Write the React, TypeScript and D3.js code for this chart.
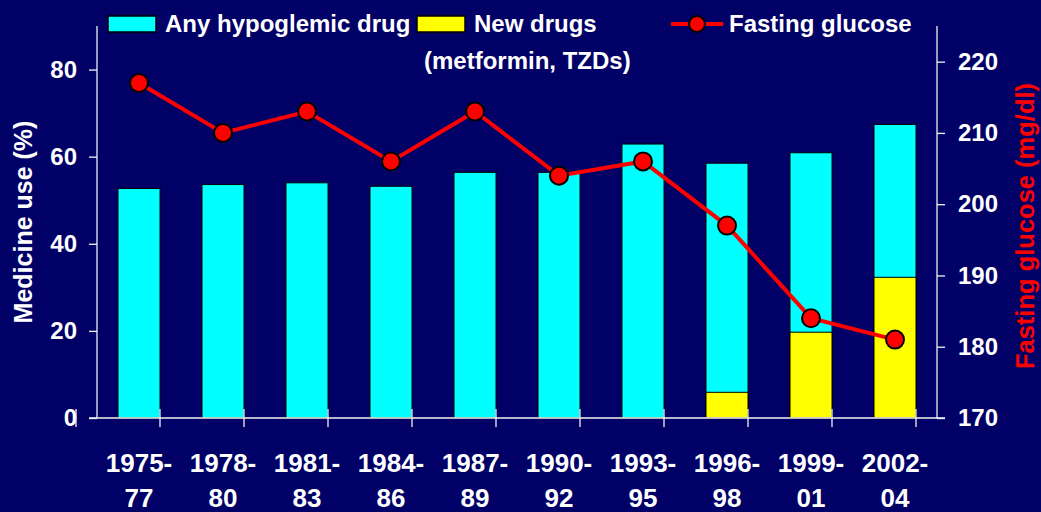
import { useEffect, useRef } from 'react';
import * as d3 from 'd3';

// periods (two-line labels)
const periods = ['1975-77', '1978-80', '1981-83', '1984-86', '1987-89', '1990-92', '1993-95', '1996-98', '1999-01', '2002-04'];
const periodTop = ['1975-', '1978-', '1981-', '1984-', '1987-', '1990-', '1993-', '1996-', '1999-', '2002-'];
const periodBottom = ['77', '80', '83', '86', '89', '92', '95', '98', '01', '04'];

// medicine use (%)
const anyDrug = [52.7, 53.6, 54.0, 53.2, 56.4, 56.4, 62.9, 58.5, 60.9, 67.4];
const newDrugs = [0, 0, 0, 0, 0, 0, 0, 5.9, 19.7, 32.3];

// fasting glucose (mg/dl)
const glucose = [217, 210, 213, 206, 213, 204, 206, 197, 184, 181];

const leftTicks = [0, 20, 40, 60, 80];
const leftMinor = [10, 30, 50, 70, 90];
const rightTicks = [170, 180, 190, 200, 210, 220];
const rightMinor = [175, 185, 195, 205, 215, 225];

const FONT = '"Liberation Sans", Arial, sans-serif';
const BG = '#000066';
const AXIS = '#f2f2f2';

const App = () => {
  const svgRef = useRef<SVGSVGElement>(null);

  useEffect(() => {
    const svg = d3.select(svgRef.current);
    svg.selectAll('*').remove();

    const width = 1041;
    const height = 512;
    const left = 97, right = 937, top = 26, bottom = 418;

    svg.attr('width', width).attr('height', height);
    svg.append('rect').attr('width', width).attr('height', height).attr('fill', BG);

    const x = d3.scaleBand<string>().domain(periods).range([left, right]).paddingInner(0.5).paddingOuter(0.25);
    const yL = d3.scaleLinear().domain([0, 90]).range([bottom, top]);
    const yR = d3.scaleLinear().domain([170, 225]).range([bottom, top]);

    // bars
    const bars = svg.append('g');
    bars.selectAll('rect.any')
      .data(periods)
      .enter()
      .append('rect')
      .attr('class', 'any')
      .attr('x', d => x(d)!)
      .attr('width', x.bandwidth())
      .attr('y', (d, i) => yL(anyDrug[i]))
      .attr('height', (d, i) => yL(0) - yL(anyDrug[i]))
      .attr('fill', '#00ffff')
      .attr('stroke', '#000')
      .attr('stroke-width', 1);

    bars.selectAll('rect.new')
      .data(periods.filter((d, i) => newDrugs[i] > 0))
      .enter()
      .append('rect')
      .attr('class', 'new')
      .attr('x', d => x(d)!)
      .attr('width', x.bandwidth())
      .attr('y', d => yL(newDrugs[periods.indexOf(d)]))
      .attr('height', d => yL(0) - yL(newDrugs[periods.indexOf(d)]))
      .attr('fill', '#ffff00')
      .attr('stroke', '#000')
      .attr('stroke-width', 1);

    // left axis
    const gL = svg.append('g').attr('transform', `translate(${left},0)`);
    gL.call(d3.axisLeft(yL).tickValues(leftMinor).tickSize(5).tickFormat(() => ''));
    gL.call(d3.axisLeft(yL).tickValues(leftTicks).tickSize(8).tickPadding(12).tickFormat(d3.format('d')));
    gL.selectAll('.domain').attr('d', `M0,${top}V${bottom}`);

    // right axis
    const gR = svg.append('g').attr('transform', `translate(${right},0)`);
    gR.call(d3.axisRight(yR).tickValues(rightMinor).tickSize(5).tickFormat(() => ''));
    gR.call(d3.axisRight(yR).tickValues(rightTicks).tickSize(8).tickPadding(13).tickFormat(d3.format('d')));
    gR.selectAll('.domain').attr('d', `M0,${top}V${bottom}`);

    [gL, gR].forEach(g => {
      g.selectAll('path, line').attr('stroke', AXIS).attr('stroke-width', 1.3);
      g.selectAll('text')
        .attr('fill', '#fff')
        .attr('font-family', FONT)
        .attr('font-weight', 'bold')
        .attr('font-size', 24);
    });

    // x axis line and category separators
    const gX = svg.append('g');
    gX.append('line')
      .attr('x1', left - 8).attr('x2', right + 8)
      .attr('y1', bottom).attr('y2', bottom)
      .attr('stroke', AXIS).attr('stroke-width', 1.3);
    const step = x.step();
    const bounds = d3.range(periods.length + 1).map(i => x(periods[0])! - x.bandwidth() / 2 - step / 4 + i * step);
    gX.selectAll('line.sep')
      .data(bounds)
      .enter()
      .append('line')
      .attr('class', 'sep')
      .attr('x1', d => d).attr('x2', d => d)
      .attr('y1', bottom - 9).attr('y2', bottom + 9)
      .attr('stroke', AXIS).attr('stroke-width', 1.3);

    const labels = gX.selectAll('g.lab')
      .data(periods)
      .enter()
      .append('g')
      .attr('transform', d => `translate(${x(d)! + x.bandwidth() / 2},0)`);
    labels.append('text')
      .attr('y', 472)
      .text((d, i) => periodTop[i]);
    labels.append('text')
      .attr('y', 507)
      .text((d, i) => periodBottom[i]);
    labels.selectAll('text')
      .attr('text-anchor', 'middle')
      .attr('fill', '#fff')
      .attr('font-family', FONT)
      .attr('font-weight', 'bold')
      .attr('font-size', 26);

    // glucose line
    const line = d3.line<number>()
      .x((d, i) => x(periods[i])! + x.bandwidth() / 2)
      .y(d => yR(d));
    svg.append('path')
      .datum(glucose)
      .attr('d', line)
      .attr('fill', 'none')
      .attr('stroke', '#ff0000')
      .attr('stroke-width', 4);
    svg.selectAll('circle.pt')
      .data(glucose)
      .enter()
      .append('circle')
      .attr('class', 'pt')
      .attr('cx', (d, i) => x(periods[i])! + x.bandwidth() / 2)
      .attr('cy', d => yR(d))
      .attr('r', 9)
      .attr('fill', '#ff0000')
      .attr('stroke', '#000')
      .attr('stroke-width', 2);

    // axis titles
    svg.append('text')
      .attr('transform', `translate(32,${(top + bottom) / 2}) rotate(-90)`)
      .attr('text-anchor', 'middle')
      .attr('fill', '#fff')
      .attr('font-family', FONT)
      .attr('font-weight', 'bold')
      .attr('font-size', 25)
      .text('Medicine use (%)');
    svg.append('text')
      .attr('transform', `translate(1034,${(top + bottom) / 2 + 4}) rotate(-90)`)
      .attr('text-anchor', 'middle')
      .attr('fill', '#ff0000')
      .attr('font-family', FONT)
      .attr('font-weight', 'bold')
      .attr('font-size', 25.5)
      .text('Fasting glucose (mg/dl)');

    // legend
    const lg = svg.append('g')
      .attr('font-family', FONT)
      .attr('font-weight', 'bold')
      .attr('font-size', 24)
      .attr('fill', '#fff');
    lg.append('rect').attr('x', 108).attr('y', 16).attr('width', 48).attr('height', 16)
      .attr('fill', '#00ffff').attr('stroke', '#000').attr('stroke-width', 1.5);
    lg.append('text').attr('x', 165).attr('y', 32).text('Any hypoglemic drug');
    lg.append('rect').attr('x', 417).attr('y', 16).attr('width', 48).attr('height', 16)
      .attr('fill', '#ffff00').attr('stroke', '#000').attr('stroke-width', 1.5);
    lg.append('text').attr('x', 474).attr('y', 32).text('New drugs');
    lg.append('text').attr('x', 424).attr('y', 69).text('(metformin, TZDs)');
    lg.append('line').attr('x1', 671).attr('x2', 723).attr('y1', 24).attr('y2', 24)
      .attr('stroke', '#ff0000').attr('stroke-width', 4);
    lg.append('circle').attr('cx', 697).attr('cy', 24).attr('r', 8)
      .attr('fill', '#ff0000').attr('stroke', '#000').attr('stroke-width', 2);
    lg.append('text').attr('x', 729).attr('y', 32).text('Fasting glucose');
  }, []);

  return (
    <svg ref={svgRef} style={{ position: 'absolute', left: 0, top: 0, display: 'block' }}></svg>
  );
};

export default App;
